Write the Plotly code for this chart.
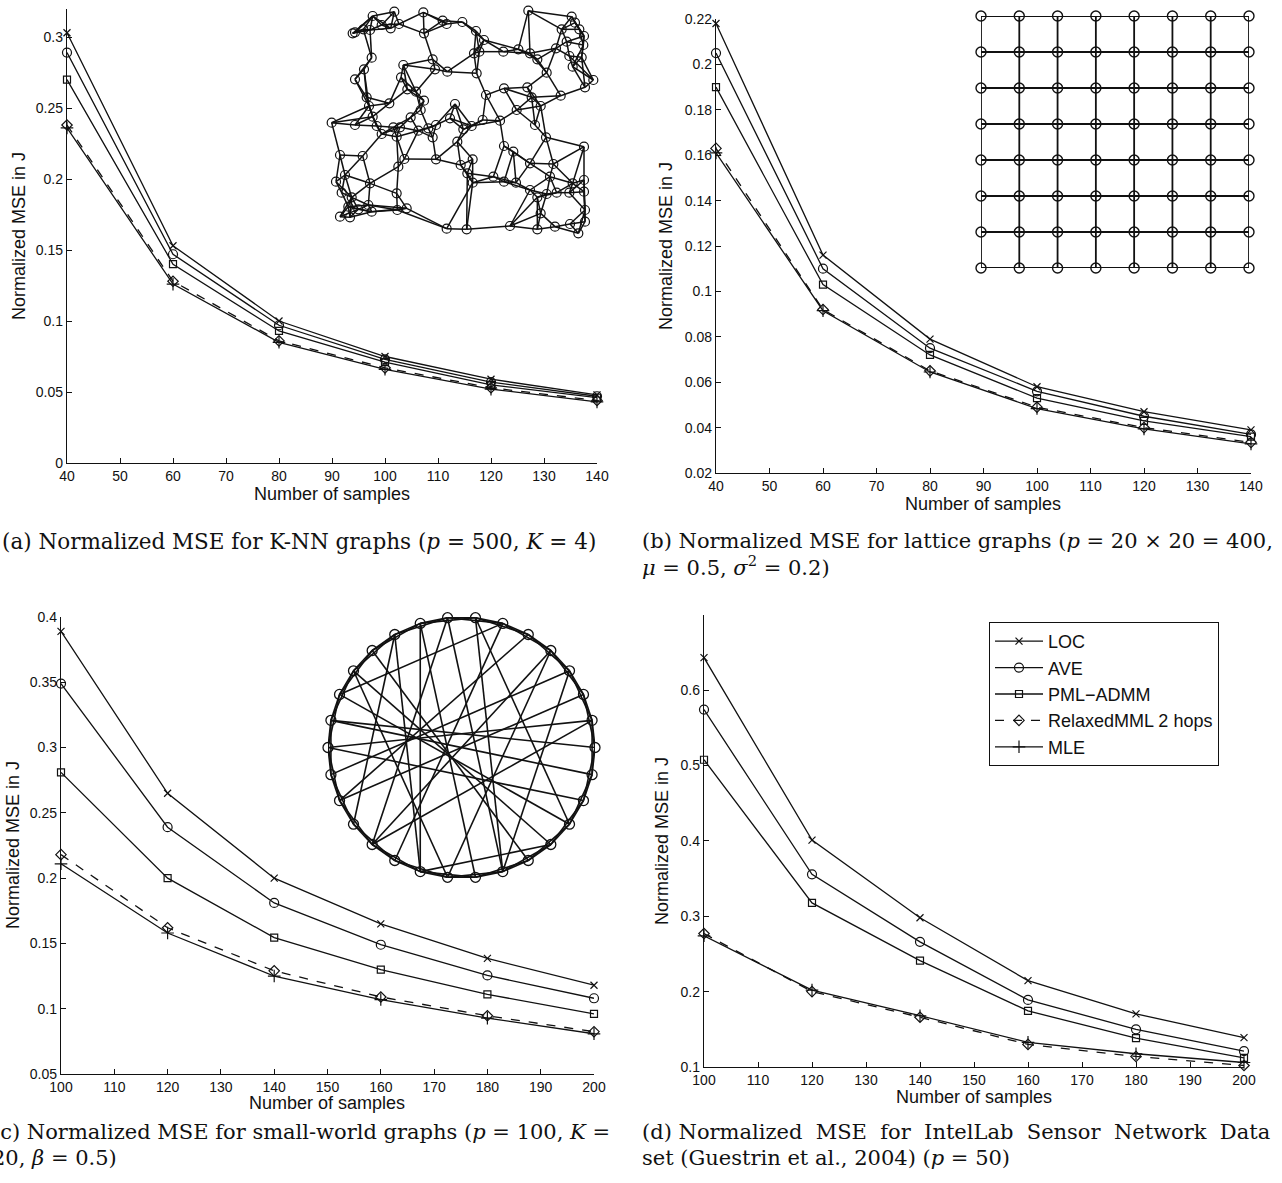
import numpy as np
import plotly.graph_objects as go

W, H = 1282, 1183

# ---------------- data ----------------
samples_ab = [40, 60, 80, 100, 120, 140]
samples_cd = [100, 120, 140, 160, 180, 200]

series_names = ["LOC", "AVE", "PML\u2212ADMM", "RelaxedMML 2 hops", "MLE"]

# (a) K-NN graphs
a_loc = [0.303, 0.153, 0.100, 0.075, 0.059, 0.048]
a_ave = [0.289, 0.147, 0.097, 0.073, 0.057, 0.047]
a_pml = [0.270, 0.140, 0.093, 0.071, 0.055, 0.046]
a_rel = [0.238, 0.128, 0.086, 0.067, 0.053, 0.044]
a_mle = [0.236, 0.126, 0.085, 0.066, 0.052, 0.043]

# (b) lattice graphs
b_loc = [0.218, 0.116, 0.079, 0.058, 0.047, 0.039]
b_ave = [0.205, 0.110, 0.075, 0.056, 0.045, 0.037]
b_pml = [0.190, 0.103, 0.072, 0.053, 0.043, 0.036]
b_rel = [0.163, 0.092, 0.065, 0.049, 0.040, 0.0335]
b_mle = [0.161, 0.0915, 0.0645, 0.0484, 0.0394, 0.0328]

# (c) small-world graphs
c_loc = [0.389, 0.265, 0.200, 0.165, 0.1385, 0.118]
c_ave = [0.349, 0.239, 0.181, 0.149, 0.1255, 0.108]
c_pml = [0.281, 0.200, 0.1545, 0.130, 0.111, 0.096]
c_rel = [0.218, 0.162, 0.129, 0.109, 0.0946, 0.0824]
c_mle = [0.211, 0.158, 0.125, 0.107, 0.0928, 0.0808]

# (d) IntelLab sensor network
d_loc = [0.643, 0.401, 0.298, 0.2145, 0.1705, 0.139]
d_ave = [0.574, 0.3555, 0.266, 0.189, 0.150, 0.121]
d_pml = [0.5075, 0.3176, 0.241, 0.1744, 0.1383, 0.112]
d_rel = [0.277, 0.200, 0.166, 0.130, 0.114, 0.102]
d_mle = [0.274, 0.202, 0.168, 0.1326, 0.1176, 0.106]

# tick labels
a_ticks = ["0", "0.05", "0.1", "0.15", "0.2", "0.25", "0.3"]
b_ticks = ["0.02", "0.04", "0.06", "0.08", "0.1", "0.12", "0.14", "0.16", "0.18", "0.2", "0.22"]
c_ticks = ["0.05", "0.1", "0.15", "0.2", "0.25", "0.3", "0.35", "0.4"]
d_ticks = ["0.1", "0.2", "0.3", "0.4", "0.5", "0.6"]
ab_xticks = ["40", "50", "60", "70", "80", "90", "100", "110", "120", "130", "140"]
cd_xticks = ["100", "110", "120", "130", "140", "150", "160", "170", "180", "190", "200"]

# inset (a): K-NN graph node positions (image units of the inset)
knn_x = [158, 165, 190, 210, 218, 245, 272, 283, 297, 370, 372, 428, 440, 487, 528, 552, 522, 538,
         610, 655, 690, 685, 712, 768, 815, 825, 838, 852, 785, 800, 808, 845, 850, 818, 880, 855,
         740, 782, 682, 612, 558, 530, 215, 192, 165, 310, 303, 398, 405, 442, 322, 348, 200, 268,
         207, 372, 362, 218, 230, 332, 300, 280, 245, 95, 165, 120, 188, 108, 135, 210, 125, 155,
         145, 175, 205, 215, 120, 150, 290, 295, 313, 292, 320, 290, 355, 385, 408, 465, 450, 398,
         472, 490, 515, 548, 600, 408, 482, 518, 502, 518, 580, 612, 648, 690, 650, 695, 722, 705,
         738, 612, 640, 690, 760, 750, 852, 818, 852, 852, 808, 770, 740, 712, 722, 712, 630, 500,
         440, 765, 810, 835, 855, 855]
knn_y = [100, 97, 88, 90, 48, 75, 85, 35, 72, 37, 100, 62, 72, 66, 93, 120, 160, 155,
         155, 148, 160, 32, 178, 145, 50, 68, 88, 108, 88, 125, 168, 172, 135, 200, 240, 262,
         218, 287, 262, 265, 285, 220, 173, 208, 238, 195, 232, 178, 208, 215, 268, 275, 292, 310,
         318, 302, 330, 350, 378, 352, 382, 382, 402, 368, 375, 465, 468, 545, 525, 550, 578, 592,
         620, 628, 615, 635, 650, 652, 580, 500, 477, 630, 625, 410, 392, 385, 375, 312, 355, 412,
         425, 388, 378, 360, 362, 478, 495, 478, 520, 548, 530, 545, 548, 570, 330, 292, 318, 375,
         412, 438, 455, 490, 492, 530, 440, 550, 540, 575, 578, 578, 582, 592, 640, 688, 678, 688,
         686, 680, 672, 700, 665, 630]
knn_k = 4

# inset (b): 8 x 8 lattice
lattice_cols = [0, 1, 2, 3, 4, 5, 6, 7]
lattice_rows = [0, 1, 2, 3, 4, 5, 6, 7]

# inset (c): small-world ring (30 nodes) + rewired chords
ring_nodes = list(range(30))
ring_hops = [1, 2]
chords = [(9, 21), (8, 24), (8, 19), (10, 21), (7, 27), (6, 13), (4, 19), (3, 24), (13, 27),
          (14, 29), (15, 1), (15, 28), (21, 26), (10, 18), (22, 4), (24, 7), (17, 5), (2, 17),
          (12, 22), (11, 25), (16, 3), (20, 6), (23, 9), (1, 19), (26, 12), (14, 0)]

# ---------------- styling ----------------
INK = "#111111"
styles = [
    dict(symbol="x-thin-open", size=7, dash="solid"),
    dict(symbol="circle-open", size=9, dash="solid"),
    dict(symbol="square-open", size=7, dash="solid"),
    dict(symbol="diamond-open", size=8, dash="dash"),
    dict(symbol="cross-thin-open", size=9, dash="solid"),
]

fig = go.Figure()


def xdom(l, r):
    return [l / W, r / W]


def ydom(top, bottom):
    return [1 - bottom / H, 1 - top / H]


panels = [
    dict(ax="", x=samples_ab, ys=[a_loc, a_ave, a_pml, a_rel, a_mle],
         xd=(67, 597), yd=(8.6, 463), yr=[0, 0.32],
         yt=[float(t) for t in a_ticks], ytt=a_ticks, xt=ab_xticks, xr=[40, 140]),
    dict(ax="2", x=samples_ab, ys=[b_loc, b_ave, b_pml, b_rel, b_mle],
         xd=(716, 1251), yd=(19, 473), yr=[0.02, 0.22],
         yt=[float(t) for t in b_ticks], ytt=b_ticks, xt=ab_xticks, xr=[40, 140]),
    dict(ax="3", x=samples_cd, ys=[c_loc, c_ave, c_pml, c_rel, c_mle],
         xd=(61, 594), yd=(617, 1074), yr=[0.05, 0.40],
         yt=[float(t) for t in c_ticks], ytt=c_ticks, xt=cd_xticks, xr=[100, 200]),
    dict(ax="4", x=samples_cd, ys=[d_loc, d_ave, d_pml, d_rel, d_mle],
         xd=(704, 1244), yd=(615, 1067), yr=[0.1, 0.6995],
         yt=[float(t) for t in d_ticks], ytt=d_ticks, xt=cd_xticks, xr=[100, 200]),
]

sans = "Liberation Sans, Arial, sans-serif"
serif = "DejaVu Serif, serif"
tickfont = dict(family=sans, size=14, color=INK)
layout_axes = {}
for pi, p in enumerate(panels):
    for si, (name, ys) in enumerate(zip(series_names, p["ys"])):
        st = styles[si]
        fig.add_trace(go.Scatter(
            x=p["x"], y=ys, mode="lines+markers", name=name,
            xaxis="x" + p["ax"], yaxis="y" + p["ax"],
            line=dict(color=INK, width=1.3, dash=st["dash"]),
            marker=dict(symbol=st["symbol"], size=st["size"], color=INK,
                        line=dict(color=INK, width=1.2)),
            cliponaxis=False,
            showlegend=(pi == 3),
        ))
    xk = "xaxis" + p["ax"]
    yk = "yaxis" + p["ax"]
    layout_axes[xk] = dict(
        domain=xdom(*p["xd"]), range=p["xr"], anchor="y" + p["ax"],
        tickvals=[float(t) for t in p["xt"]], ticktext=p["xt"],
        ticks="inside", ticklen=5, tickcolor=INK, tickwidth=1,
        showline=True, linecolor=INK, linewidth=1.3, mirror=False,
        showgrid=False, zeroline=False, tickfont=tickfont, fixedrange=True,
    )
    layout_axes[yk] = dict(
        domain=ydom(*p["yd"]), range=p["yr"], anchor="x" + p["ax"],
        tickvals=p["yt"], ticktext=p["ytt"],
        ticks="inside", ticklen=5, tickcolor=INK, tickwidth=1,
        showline=True, linecolor=INK, linewidth=1.3, mirror=False,
        showgrid=False, zeroline=False, tickfont=tickfont, fixedrange=True,
    )

# ---------------- inset graphs ----------------
hidden = dict(visible=False, showgrid=False, zeroline=False, fixedrange=True)

# (a) K-NN graph
kx = np.array(knn_x, float)
ky = np.array(knn_y, float)
pts = np.stack([kx, ky], 1)
dist = np.sqrt(((pts[:, None, :] - pts[None, :, :]) ** 2).sum(-1))
edges = set()
for i in range(len(pts)):
    nn = np.argsort(dist[i])[1:knn_k + 1]
    for j in nn:
        edges.add((min(i, j), max(i, j)))
ex, ey = [], []
for i, j in sorted(edges):
    ex += [kx[i], kx[j], None]
    ey += [ky[i], ky[j], None]
fig.add_trace(go.Scatter(x=ex, y=ey, mode="lines", xaxis="x5", yaxis="y5",
                         line=dict(color=INK, width=1.5), showlegend=False, hoverinfo="skip",
                         cliponaxis=False))
fig.add_trace(go.Scatter(x=kx, y=ky, mode="markers", xaxis="x5", yaxis="y5",
                         marker=dict(symbol="circle-open", size=9, color=INK, line=dict(width=1.2, color=INK)),
                         showlegend=False, cliponaxis=False))
layout_axes["xaxis5"] = dict(domain=xdom(300, 640), range=[0, 1020], anchor="y5", **hidden)
layout_axes["yaxis5"] = dict(domain=ydom(0, 250), range=[750, 0], anchor="x5", **hidden)

# (b) lattice
lx, ly = [], []
for r in lattice_rows:
    lx += [lattice_cols[0], lattice_cols[-1], None]
    ly += [r, r, None]
for c in lattice_cols:
    lx += [c, c, None]
    ly += [lattice_rows[0], lattice_rows[-1], None]
fig.add_trace(go.Scatter(x=lx, y=ly, mode="lines", xaxis="x6", yaxis="y6",
                         line=dict(color=INK, width=1.8), showlegend=False, hoverinfo="skip",
                         cliponaxis=False))
gx = [c for r in lattice_rows for c in lattice_cols]
gy = [r for r in lattice_rows for c in lattice_cols]
fig.add_trace(go.Scatter(x=gx, y=gy, mode="markers", xaxis="x6", yaxis="y6",
                         marker=dict(symbol="circle-open", size=10, color=INK, line=dict(width=1.4, color=INK)),
                         showlegend=False, cliponaxis=False))
layout_axes["xaxis6"] = dict(domain=xdom(981, 1249), range=[0, 7], anchor="y6", **hidden)
layout_axes["yaxis6"] = dict(domain=ydom(16, 268), range=[0, 7], anchor="x6", **hidden)

# (c) small-world ring
n_ring = len(ring_nodes)
ang = np.array(ring_nodes) * 2 * np.pi / n_ring
rx, ry = np.cos(ang), np.sin(ang)
cx, cy = [], []
for k in ring_nodes:
    for h in ring_hops:
        j = (k + h) % n_ring
        cx += [rx[k], rx[j], None]
        cy += [ry[k], ry[j], None]
for i, j in chords:
    cx += [rx[i], rx[j], None]
    cy += [ry[i], ry[j], None]
fig.add_trace(go.Scatter(x=cx, y=cy, mode="lines", xaxis="x7", yaxis="y7",
                         line=dict(color=INK, width=1.6), showlegend=False, hoverinfo="skip",
                         cliponaxis=False))
fig.add_trace(go.Scatter(x=rx, y=ry, mode="markers", xaxis="x7", yaxis="y7",
                         marker=dict(symbol="circle-open", size=10, color=INK, line=dict(width=1.3, color=INK)),
                         showlegend=False, cliponaxis=False))
layout_axes["xaxis7"] = dict(domain=xdom(328, 595), range=[-1, 1], anchor="y7", **hidden)
layout_axes["yaxis7"] = dict(domain=ydom(617, 878), range=[-1, 1], anchor="x7", **hidden)

# ---------------- text ----------------
ann = []


def A(px, py, text, size, fam, angle=0, xanchor="center", align="center"):
    ann.append(dict(x=px / W, y=1 - py / H, xref="paper", yref="paper", text=text,
                    showarrow=False, textangle=angle, xanchor=xanchor, yanchor="middle",
                    align=align, font=dict(family=fam, size=size, color=INK)))


ylab = "Normalized MSE in J"
xlab = "Number of samples"
A(19, 236, ylab, 18, sans, -90)
A(666, 246, ylab, 18, sans, -90)
A(13, 845, ylab, 18, sans, -90)
A(662, 841, ylab, 18, sans, -90)
A(332, 494, xlab, 18, sans)
A(983, 504, xlab, 18, sans)
A(327, 1103, xlab, 18, sans)
A(974, 1097, xlab, 18, sans)

nb = "\u00a0"
CS = 21
A(0, 541, "(a) Normalized MSE for K-NN graphs (<i>p</i> = 500, <i>K</i> = 4)", 21.5, serif,
  xanchor="left", align="left")
A(640, 541, "(b) Normalized MSE for lattice graphs (<i>p</i> = 20 \u00d7 20 = 400,", CS, serif,
  xanchor="left", align="left")
A(640, 566, "<i>\u03bc</i> = 0.5, <i>\u03c3</i><sup>2</sup> = 0.2)", CS, serif,
  xanchor="left", align="left")
A(-10, 1132, "(c) Normalized MSE for small-world graphs (<i>p</i> = 100, <i>K</i> =", CS, serif,
  xanchor="left", align="left")
A(-10, 1158, "20, <i>\u03b2</i> = 0.5)", CS, serif, xanchor="left", align="left")
d1 = ("(d)" + nb + "Normalized" + nb + nb + "MSE" + nb + nb + "for" + nb + nb + "IntelLab" + nb + nb +
      "Sensor" + nb + nb + "Network" + nb + nb + "Data")
A(640, 1132, d1, CS, serif, xanchor="left", align="left")
A(640, 1158, "set (Guestrin et al., 2004) (<i>p</i> = 50)", CS, serif, xanchor="left", align="left")

fig.update_layout(
    width=W, height=H, margin=dict(l=0, r=0, t=0, b=0, autoexpand=False),
    paper_bgcolor="white", plot_bgcolor="rgba(0,0,0,0)",
    annotations=ann,
    showlegend=True,
    legend=dict(x=989 / W, y=1 - 622 / H, xanchor="left", yanchor="top",
                bgcolor="white", bordercolor=INK, borderwidth=1,
                font=dict(family=sans, size=18, color=INK),
                itemwidth=48, traceorder="normal"),
    **layout_axes,
)

post = ("document.documentElement.style.cssText='margin:0;padding:0;overflow:hidden';"
        "document.body.style.cssText='margin:0;padding:0;overflow:hidden';")
fig.write_html("out.html", config={"displayModeBar": False}, post_script=post)
